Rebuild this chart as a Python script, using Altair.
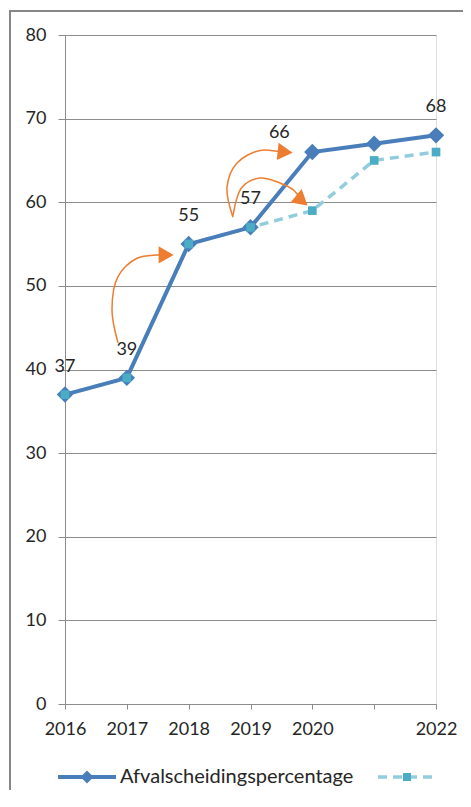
import altair as alt
import pandas as pd

# ---- data ----
years = [2016, 2017, 2018, 2019, 2020, 2021, 2022]
afval = [37, 39, 55, 57, 66, 67, 68]
prognose = [37, 39, 55, 57, 59, 65, 66]
label_years = [2016, 2017, 2018, 2019, 2022]
label_values = [37, 39, 55, 57, 68]
label2_years = [2020]
label2_values = [66]
y_ticks = [0, 10, 20, 30, 40, 50, 60, 70, 80]

arrow_id = [1] * 6 + [2] * 6 + [3] * 6
arrow_seq = list(range(6)) * 3
arrow_x = [2016.857, 2016.76, 2016.857, 2017.164, 2017.488, 2017.62,
           2018.717, 2018.62, 2018.782, 2019.154, 2019.429, 2019.55,
           2018.717, 2018.863, 2019.154, 2019.477, 2019.687, 2019.82]
arrow_y = [43.2, 47.1, 51.1, 53.3, 53.7, 53.7,
           58.2, 61.8, 64.7, 66.2, 66.1, 66.0,
           58.4, 61.8, 62.9, 62.3, 61.5, 60.3]
head_x = [2017.635, 2019.56, 2019.83]
head_y = [53.7, 66.0, 60.2]
head_angle = [0, 6, 40]

BLUE = "#4a7ebb"
LIGHT = "#93cddd"
TEAL = "#4bacc6"
ORANGE = "#ed7d31"
GREY = "#8c8c8c"
FONT = "Lato"
TXT = "#262626"

df = pd.DataFrame({"year": years, "afval": afval, "prognose": prognose})
df_lab = pd.DataFrame({"year": label_years, "v": label_values})
df_lab2 = pd.DataFrame({"year": label2_years, "v": label2_values})
df_arrow = pd.DataFrame({"id": arrow_id, "seq": arrow_seq, "x": arrow_x, "y": arrow_y})
df_head = pd.DataFrame({"x": head_x, "y": head_y, "a": head_angle})
one = pd.DataFrame({"k": [0]})

xscale = alt.Scale(domain=[2016, 2022], nice=False, zero=False)
yscale = alt.Scale(domain=[0, 80], nice=False)

xaxis = alt.Axis(values=years, labelExpr="datum.value == 2021 ? '' : datum.value",
                 grid=False, domainColor=GREY, tickColor=GREY, tickSize=5,
                 labelPadding=11, labelFont=FONT, labelFontSize=18,
                 labelColor=TXT, title=None, labelFlush=False)
yaxis = alt.Axis(values=y_ticks, grid=True, gridColor=GREY, gridWidth=1,
                 domainColor=GREY, tickColor=GREY, tickSize=7, labelPadding=12,
                 labelFont=FONT, labelFontSize=18, labelColor=TXT, title=None)

base = alt.Chart(df)

# frame
frame = alt.Chart(one).mark_rect(fill="white", fillOpacity=0, stroke="#878787", strokeWidth=2).encode(
    x=alt.value(-55), x2=alt.value(600), y=alt.value(-24), y2=alt.value(1000)
)

prog_line = alt.Chart(df).mark_line(color=LIGHT, strokeWidth=3.5, strokeDash=[9, 6]).encode(
    x=alt.X("year:Q", scale=xscale, axis=xaxis),
    y=alt.Y("prognose:Q", scale=yscale, axis=yaxis),
)
afval_line = base.mark_line(color=BLUE, strokeWidth=4).encode(
    x=alt.X("year:Q", scale=xscale), y=alt.Y("afval:Q", scale=yscale)
)
afval_pts = base.mark_point(shape="diamond", filled=True, color=BLUE, size=270, opacity=1).encode(
    x=alt.X("year:Q", scale=xscale), y=alt.Y("afval:Q", scale=yscale)
)
prog_pts = base.mark_point(shape="square", filled=True, color=TEAL, size=75, opacity=1).encode(
    x=alt.X("year:Q", scale=xscale), y=alt.Y("prognose:Q", scale=yscale)
)
labels = alt.Chart(df_lab).mark_text(font=FONT, fontSize=18, color=TXT, baseline="bottom", dy=-19).encode(
    x=alt.X("year:Q", scale=xscale), y=alt.Y("v:Q", scale=yscale), text="v:Q"
)
labels2 = alt.Chart(df_lab2).mark_text(font=FONT, fontSize=18, color=TXT, baseline="bottom", dy=-10, dx=-33).encode(
    x=alt.X("year:Q", scale=xscale), y=alt.Y("v:Q", scale=yscale), text="v:Q"
)
arrows = alt.Chart(df_arrow).mark_line(color=ORANGE, strokeWidth=1.5, interpolate="catmull-rom").encode(
    x=alt.X("x:Q", scale=xscale), y=alt.Y("y:Q", scale=yscale),
    detail="id:N", order="seq:Q"
)
heads = alt.Chart(df_head).mark_point(shape="triangle-right", filled=True, color=ORANGE, size=300, opacity=1).encode(
    x=alt.X("x:Q", scale=xscale), y=alt.Y("y:Q", scale=yscale),
    angle=alt.Angle("a:Q", scale=None)
)

# custom legend
leg_line = alt.Chart(one).mark_rule(color=BLUE, strokeWidth=4).encode(
    x=alt.value(-7), x2=alt.value(51), y=alt.value(742)
)
leg_diamond = alt.Chart(one).mark_point(shape="diamond", filled=True, color=BLUE, size=170, opacity=1).encode(
    x=alt.value(22), y=alt.value(742)
)
leg_text = alt.Chart(one).mark_text(text="Afvalscheidingspercentage", font=FONT, fontSize=20, color=TXT,
                                    align="left", baseline="middle").encode(
    x=alt.value(55), y=alt.value(742)
)
leg_dash = alt.Chart(one).mark_rule(color=LIGHT, strokeWidth=3.5, strokeDash=[9, 6]).encode(
    x=alt.value(313), x2=alt.value(372), y=alt.value(742)
)
leg_square = alt.Chart(one).mark_point(shape="square", filled=True, color=TEAL, size=65, opacity=1).encode(
    x=alt.value(342), y=alt.value(742)
)

chart = alt.layer(
    frame, prog_line, afval_line, afval_pts, prog_pts, labels, labels2, arrows, heads,
    leg_line, leg_diamond, leg_text, leg_dash, leg_square
).properties(
    width=371, height=669,
    autosize=alt.AutoSizeParams(type="none"),
    padding={"left": 57, "top": 27, "right": 27, "bottom": 86},
).configure_view(stroke=None).configure(background="white")

chart.save("out.html", embed_options={"renderer": "svg", "actions": False})
